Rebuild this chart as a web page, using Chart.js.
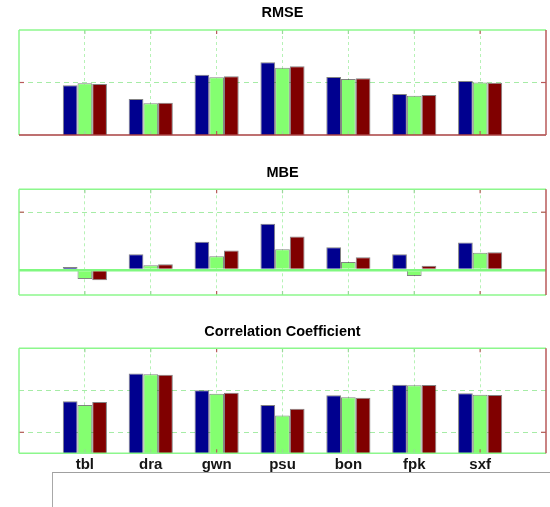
<!DOCTYPE html>
<html lang="en">
    <head>
        <meta charset="UTF-8" />
        <title>RMSE / MBE / Correlation Coefficient</title>
        <script src="https://cdn.jsdelivr.net/npm/chart.js"></script>
        <style>
            body {
                margin: 0;
                width: 550px;
                height: 507px;
                background: #fff;
                position: relative;
                overflow: hidden;
            }
            canvas {
                position: absolute;
                left: 0;
            }
            #rmseChart { top: 0; }
            #mbeChart { top: 150px; }
            #corrChart { top: 300px; }
            .legend-box {
                position: absolute;
                left: 52px;
                top: 472px;
                width: 498px;
                height: 40px;
                border-left: 1px solid #a8a8a8;
                border-top: 1px solid #a0a0a0;
            }
        </style>
    </head>
    <body>
        <canvas id="rmseChart" width="550" height="140"></canvas>
        <canvas id="mbeChart" width="550" height="150"></canvas>
        <canvas id="corrChart" width="550" height="207"></canvas>
        <div class="legend-box"></div>

        <script>
            const stations = ["tbl", "dra", "gwn", "psu", "bon", "fpk", "sxf"];

            const rmseBlue = [47.4, 34.2, 57.5, 69.2, 55.2, 39.0, 51.5];
            const rmseGreen = [49.3, 30.2, 54.9, 64.1, 53.3, 37.5, 50.1];
            const rmseRed = [48.6, 30.8, 55.9, 65.4, 54.0, 38.1, 49.8];
            const rmseTicks = [50];

            const mbeBlue = [1.1, 5.5, 9.8, 16.0, 7.9, 5.5, 9.5];
            const mbeGreen = [-3.1, 1.7, 4.8, 7.2, 2.8, -2.0, 6.0];
            const mbeRed = [-3.5, 2.0, 6.8, 11.6, 4.4, 1.5, 6.2];
            const mbeTicks = [0, 20];

            const corrBlue = [0.937, 0.970, 0.950, 0.9325, 0.944, 0.9567, 0.9464];
            const corrGreen = [0.9325, 0.969, 0.946, 0.920, 0.9417, 0.956, 0.9448];
            const corrRed = [0.936, 0.9686, 0.947, 0.928, 0.9412, 0.9563, 0.9444];
            const corrTicks = [0.9, 0.95];

            const barColors = ["#00008f", "#84ff70", "#800000"];
            const frameGreen = "#8cf78c";
            const frameRed = "#b85a5a";

            Chart.defaults.font.family = "Arial, 'Liberation Sans', sans-serif";

            // box round the plot area plus the little inward tick marks
            const framePlugin = {
                id: "frame",
                afterDatasetsDraw(chart, args, opts) {
                    const { ctx, chartArea: a, scales } = chart;
                    const line = (x1, y1, x2, y2, color, w) => {
                        ctx.beginPath();
                        ctx.strokeStyle = color;
                        ctx.lineWidth = w;
                        ctx.moveTo(x1, y1);
                        ctx.lineTo(x2, y2);
                        ctx.stroke();
                    };
                    ctx.save();
                    for (let i = 1; i <= stations.length; i++) {
                        const x = scales.x.getPixelForValue(i);
                        const c = i === 3 || i === 7 ? frameRed : "#9ad89a";
                        line(x, a.top, x, a.top + 4, c, 1.2);
                        line(x, a.bottom, x, a.bottom - 4, c, 1.2);
                    }
                    opts.yMarks.forEach((v) => {
                        const y = scales.y.getPixelForValue(v);
                        line(a.left, y, a.left + 5, y, frameRed, 1.2);
                        line(a.right, y, a.right - 5, y, frameRed, 1.2);
                    });
                    line(a.left, a.top, a.right, a.top, frameGreen, 1.5);
                    line(a.left, a.top, a.left, a.bottom, frameGreen, 1.5);
                    line(a.left, a.bottom, a.right, a.bottom, opts.bottomColor, 1.5);
                    line(a.right, a.top, a.right, a.bottom, frameRed, 1.5);
                    ctx.restore();
                },
            };

            function makeDatasets(blue, green, red) {
                return [blue, green, red].map((vals, k) => ({
                    data: vals.map((v, i) => ({ x: i + 1, y: v })),
                    backgroundColor: barColors[k],
                    borderColor: "rgba(30,30,30,0.55)",
                    borderWidth: 1,
                    categoryPercentage: 0.67,
                    barPercentage: 1.0,
                }));
            }

            function xAxis(showLabels) {
                return {
                    type: "linear",
                    min: 0,
                    max: 8,
                    offset: false,
                    ticks: {
                        display: showLabels,
                        stepSize: 1,
                        autoSkip: false,
                        maxRotation: 0,
                        padding: 3,
                        color: "#151515",
                        font: { size: 15, weight: "bold" },
                        callback: (v) => stations[v - 1] || "",
                    },
                    grid: {
                        offset: false,
                        drawTicks: false,
                        color: (c) => (c.tick && c.tick.value > 0 && c.tick.value < 8 ? "#b6f2b6" : "rgba(0,0,0,0)"),
                    },
                    border: { display: false, dash: [3, 3] },
                };
            }

            function yAxis(min, max, tickValues) {
                const isZero = (c) => c.tick && c.tick.value === 0;
                return {
                    min: min,
                    max: max,
                    afterBuildTicks: (scale) => {
                        scale.ticks = tickValues.map((v) => ({ value: v }));
                    },
                    ticks: { display: false },
                    grid: {
                        drawTicks: false,
                        color: (c) => (isZero(c) ? "#80f880" : "#a6eca6"),
                        lineWidth: (c) => (isZero(c) ? 2.5 : 1),
                    },
                    border: { display: false, dash: (c) => (isZero(c) ? [] : [5, 4]) },
                };
            }

            function makeChart(id, title, datasets, y, titlePad, bottomPad, showLabels, bottomColor, yMarks) {
                return new Chart(document.getElementById(id), {
                    type: "bar",
                    data: { datasets: datasets },
                    options: {
                        responsive: false,
                        animation: false,
                        devicePixelRatio: 1,
                        layout: { padding: { left: 19, right: 4, top: 0, bottom: bottomPad } },
                        scales: { x: xAxis(showLabels), y: y },
                        plugins: {
                            legend: { display: false },
                            tooltip: { enabled: false },
                            title: {
                                display: true,
                                text: title,
                                color: "#000",
                                font: { size: 14.5, weight: "bold" },
                                padding: titlePad,
                            },
                            frame: { bottomColor: bottomColor, yMarks: yMarks },
                        },
                    },
                    plugins: [framePlugin],
                });
            }

            makeChart(
                "rmseChart",
                "RMSE",
                makeDatasets(rmseBlue, rmseGreen, rmseRed),
                yAxis(0, 100, rmseTicks),
                { top: 4.4, bottom: 8.2 },
                5,
                false,
                "#a84040",
                [50]
            );

            makeChart(
                "mbeChart",
                "MBE",
                makeDatasets(mbeBlue, mbeGreen, mbeRed),
                yAxis(-8.6, 27.9, mbeTicks),
                { top: 14.4, bottom: 7.5 },
                5,
                false,
                frameGreen,
                [20]
            );

            makeChart(
                "corrChart",
                "Correlation Coefficient",
                makeDatasets(corrBlue, corrGreen, corrRed),
                yAxis(0.875, 1.0, corrTicks),
                { top: 23.4, bottom: 7.5 },
                29.7,
                true,
                frameGreen,
                [0.9]
            );
        </script>
    </body>
</html>
